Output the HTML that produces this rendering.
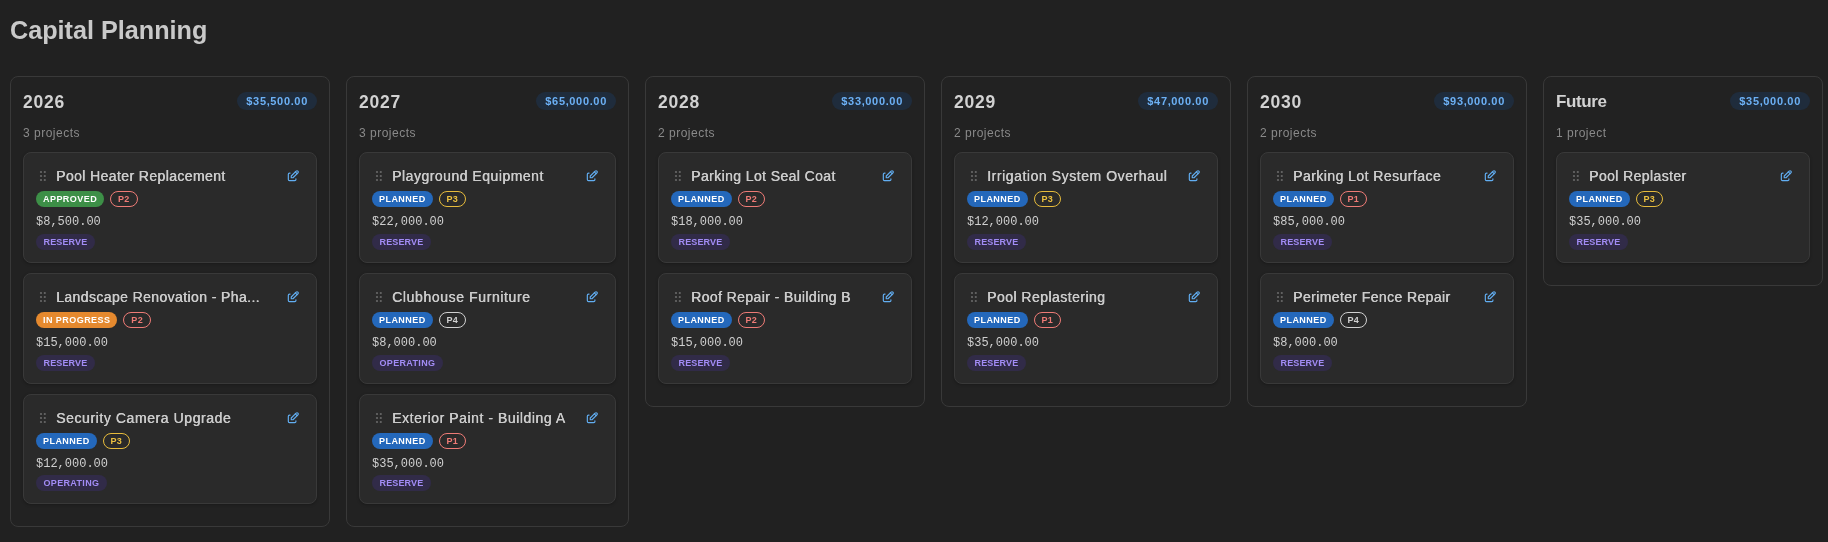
<!DOCTYPE html><html><head><meta charset="utf-8"><title>Capital Planning</title><style>
*{box-sizing:border-box;margin:0;padding:0}
html,body{width:1828px;height:542px;overflow:hidden;background:#212121;font-family:"Liberation Sans",sans-serif;color:#d4d4d4}
h1{will-change:transform;position:absolute;left:10px;top:12.7px;font-size:25.2px;line-height:34px;font-weight:700;color:#c9c9c9;letter-spacing:0}
.board{will-change:transform;position:absolute;left:10px;top:76px;display:flex;gap:16px;align-items:flex-start}
.col{border:1px solid #393939;border-radius:8px;padding:12px 12px 22px 12px;background:#222}
.chead{display:flex;justify-content:space-between;align-items:center;height:18px;margin-top:3px}
.yr{font-size:17.5px;line-height:18px;font-weight:700;color:#d2d2d2;letter-spacing:0.8px;position:relative;top:1px}
.tot{font-size:11px;font-weight:700;color:#6cb0f5;background:#1f2c3c;border-radius:9px;height:18px;line-height:18px;padding:0 9.1px;letter-spacing:0.65px}
.cnt{font-size:12px;color:#8a8a8a;margin-top:16px;height:14px;line-height:14px;letter-spacing:0.5px}
.list{margin-top:12px;display:flex;flex-direction:column;gap:10px}
.card{background:#2a2a2a;border:1px solid #393939;border-radius:8px;box-shadow:0 1px 3px rgba(0,0,0,0.25);height:111px;padding:0 12px;position:relative}
.card:nth-child(3){height:110px}
.r1{display:flex;align-items:center;height:20px;margin-top:13px;position:relative}
.grip{position:absolute;left:3px;top:4px}
.ttl{margin-left:20px;font-size:14px;font-weight:400;color:#cbcbcb;white-space:nowrap;letter-spacing:0.4px;text-shadow:0.4px 0 0 #cbcbcb}
.edit{position:absolute;right:3.8px;top:2.8px}
.r2{display:flex;gap:6px;margin-top:5px;height:16px}
.st,.pr,.fund{display:inline-block;height:16px;line-height:16px;border-radius:8px;font-size:9px;font-weight:700;letter-spacing:0.4px;padding:0 7px}
.st{color:#fff;letter-spacing:0.45px}
.st-ap{background:#3d8f47}
.st-ip{background:#e5892e}
.st-pl{background:#2468bb}
.pr{border:1px solid;line-height:14px;padding:0 6.8px}
.p1,.p2{color:#ee7b76;border-color:#ee7b76}
.p3{color:#ecc03f;border-color:#e6bb3c}
.p4{color:#d0d0d0;border-color:#d0d0d0}
.amt{font-family:"Liberation Mono",monospace;font-size:12px;color:#cfcfcf;margin-top:7px;height:16px;line-height:16px}
.r4{margin-top:4px;height:16px;display:flex}
.fund{background:#312b48;color:#a28cf5}
.yr.fu{font-size:17px;letter-spacing:-0.4px}
.card:nth-child(3) .r4{margin-top:3px}
.fund.res{letter-spacing:0.15px;padding:0 7.5px}
.fund.ope{letter-spacing:0.33px;padding:0 7.5px}

</style></head><body>
<h1>Capital Planning</h1><div class="board">
<div class="col" style="width:320px"><div class="chead"><span class="yr">2026</span><span class="tot">$35,500.00</span></div><div class="cnt">3 projects</div><div class="list">
<div class="card"><div class="r1"><svg class="grip" width="8" height="12" viewBox="0 0 8 12"><g fill="#686868"><circle cx="2" cy="2" r="1.1"/><circle cx="5.8" cy="2" r="1.1"/><circle cx="2" cy="6" r="1.1"/><circle cx="5.8" cy="6" r="1.1"/><circle cx="2" cy="10" r="1.1"/><circle cx="5.8" cy="10" r="1.1"/></g></svg><span class="ttl">Pool Heater Replacement</span><svg class="edit" width="14" height="14" viewBox="0 0 24 24" fill="none" stroke="#62aef2" stroke-width="2" stroke-linecap="round" stroke-linejoin="round"><path d="M7 7h-1a2 2 0 0 0 -2 2v9a2 2 0 0 0 2 2h9a2 2 0 0 0 2 -2v-1"/><path d="M20.385 6.585a2.1 2.1 0 0 0 -2.97 -2.97l-8.415 8.385v3h3l8.415 -8.385z"/><path d="M16 5l3 3"/></svg></div><div class="r2"><span class="st st-ap">APPROVED</span><span class="pr p2">P2</span></div><div class="amt">$8,500.00</div><div class="r4"><span class="fund res">RESERVE</span></div></div>
<div class="card"><div class="r1"><svg class="grip" width="8" height="12" viewBox="0 0 8 12"><g fill="#686868"><circle cx="2" cy="2" r="1.1"/><circle cx="5.8" cy="2" r="1.1"/><circle cx="2" cy="6" r="1.1"/><circle cx="5.8" cy="6" r="1.1"/><circle cx="2" cy="10" r="1.1"/><circle cx="5.8" cy="10" r="1.1"/></g></svg><span class="ttl">Landscape Renovation - Pha...</span><svg class="edit" width="14" height="14" viewBox="0 0 24 24" fill="none" stroke="#62aef2" stroke-width="2" stroke-linecap="round" stroke-linejoin="round"><path d="M7 7h-1a2 2 0 0 0 -2 2v9a2 2 0 0 0 2 2h9a2 2 0 0 0 2 -2v-1"/><path d="M20.385 6.585a2.1 2.1 0 0 0 -2.97 -2.97l-8.415 8.385v3h3l8.415 -8.385z"/><path d="M16 5l3 3"/></svg></div><div class="r2"><span class="st st-ip">IN PROGRESS</span><span class="pr p2">P2</span></div><div class="amt">$15,000.00</div><div class="r4"><span class="fund res">RESERVE</span></div></div>
<div class="card"><div class="r1"><svg class="grip" width="8" height="12" viewBox="0 0 8 12"><g fill="#686868"><circle cx="2" cy="2" r="1.1"/><circle cx="5.8" cy="2" r="1.1"/><circle cx="2" cy="6" r="1.1"/><circle cx="5.8" cy="6" r="1.1"/><circle cx="2" cy="10" r="1.1"/><circle cx="5.8" cy="10" r="1.1"/></g></svg><span class="ttl" style="letter-spacing:0.58px">Security Camera Upgrade</span><svg class="edit" width="14" height="14" viewBox="0 0 24 24" fill="none" stroke="#62aef2" stroke-width="2" stroke-linecap="round" stroke-linejoin="round"><path d="M7 7h-1a2 2 0 0 0 -2 2v9a2 2 0 0 0 2 2h9a2 2 0 0 0 2 -2v-1"/><path d="M20.385 6.585a2.1 2.1 0 0 0 -2.97 -2.97l-8.415 8.385v3h3l8.415 -8.385z"/><path d="M16 5l3 3"/></svg></div><div class="r2"><span class="st st-pl">PLANNED</span><span class="pr p3">P3</span></div><div class="amt">$12,000.00</div><div class="r4"><span class="fund ope">OPERATING</span></div></div>
</div></div>
<div class="col" style="width:283px"><div class="chead"><span class="yr">2027</span><span class="tot">$65,000.00</span></div><div class="cnt">3 projects</div><div class="list">
<div class="card"><div class="r1"><svg class="grip" width="8" height="12" viewBox="0 0 8 12"><g fill="#686868"><circle cx="2" cy="2" r="1.1"/><circle cx="5.8" cy="2" r="1.1"/><circle cx="2" cy="6" r="1.1"/><circle cx="5.8" cy="6" r="1.1"/><circle cx="2" cy="10" r="1.1"/><circle cx="5.8" cy="10" r="1.1"/></g></svg><span class="ttl" style="letter-spacing:0.5px">Playground Equipment</span><svg class="edit" width="14" height="14" viewBox="0 0 24 24" fill="none" stroke="#62aef2" stroke-width="2" stroke-linecap="round" stroke-linejoin="round"><path d="M7 7h-1a2 2 0 0 0 -2 2v9a2 2 0 0 0 2 2h9a2 2 0 0 0 2 -2v-1"/><path d="M20.385 6.585a2.1 2.1 0 0 0 -2.97 -2.97l-8.415 8.385v3h3l8.415 -8.385z"/><path d="M16 5l3 3"/></svg></div><div class="r2"><span class="st st-pl">PLANNED</span><span class="pr p3">P3</span></div><div class="amt">$22,000.00</div><div class="r4"><span class="fund res">RESERVE</span></div></div>
<div class="card"><div class="r1"><svg class="grip" width="8" height="12" viewBox="0 0 8 12"><g fill="#686868"><circle cx="2" cy="2" r="1.1"/><circle cx="5.8" cy="2" r="1.1"/><circle cx="2" cy="6" r="1.1"/><circle cx="5.8" cy="6" r="1.1"/><circle cx="2" cy="10" r="1.1"/><circle cx="5.8" cy="10" r="1.1"/></g></svg><span class="ttl" style="letter-spacing:0.61px">Clubhouse Furniture</span><svg class="edit" width="14" height="14" viewBox="0 0 24 24" fill="none" stroke="#62aef2" stroke-width="2" stroke-linecap="round" stroke-linejoin="round"><path d="M7 7h-1a2 2 0 0 0 -2 2v9a2 2 0 0 0 2 2h9a2 2 0 0 0 2 -2v-1"/><path d="M20.385 6.585a2.1 2.1 0 0 0 -2.97 -2.97l-8.415 8.385v3h3l8.415 -8.385z"/><path d="M16 5l3 3"/></svg></div><div class="r2"><span class="st st-pl">PLANNED</span><span class="pr p4">P4</span></div><div class="amt">$8,000.00</div><div class="r4"><span class="fund ope">OPERATING</span></div></div>
<div class="card"><div class="r1"><svg class="grip" width="8" height="12" viewBox="0 0 8 12"><g fill="#686868"><circle cx="2" cy="2" r="1.1"/><circle cx="5.8" cy="2" r="1.1"/><circle cx="2" cy="6" r="1.1"/><circle cx="5.8" cy="6" r="1.1"/><circle cx="2" cy="10" r="1.1"/><circle cx="5.8" cy="10" r="1.1"/></g></svg><span class="ttl" style="letter-spacing:0.55px">Exterior Paint - Building A</span><svg class="edit" width="14" height="14" viewBox="0 0 24 24" fill="none" stroke="#62aef2" stroke-width="2" stroke-linecap="round" stroke-linejoin="round"><path d="M7 7h-1a2 2 0 0 0 -2 2v9a2 2 0 0 0 2 2h9a2 2 0 0 0 2 -2v-1"/><path d="M20.385 6.585a2.1 2.1 0 0 0 -2.97 -2.97l-8.415 8.385v3h3l8.415 -8.385z"/><path d="M16 5l3 3"/></svg></div><div class="r2"><span class="st st-pl">PLANNED</span><span class="pr p1">P1</span></div><div class="amt">$35,000.00</div><div class="r4"><span class="fund res">RESERVE</span></div></div>
</div></div>
<div class="col" style="width:280px"><div class="chead"><span class="yr">2028</span><span class="tot">$33,000.00</span></div><div class="cnt">2 projects</div><div class="list">
<div class="card"><div class="r1"><svg class="grip" width="8" height="12" viewBox="0 0 8 12"><g fill="#686868"><circle cx="2" cy="2" r="1.1"/><circle cx="5.8" cy="2" r="1.1"/><circle cx="2" cy="6" r="1.1"/><circle cx="5.8" cy="6" r="1.1"/><circle cx="2" cy="10" r="1.1"/><circle cx="5.8" cy="10" r="1.1"/></g></svg><span class="ttl">Parking Lot Seal Coat</span><svg class="edit" width="14" height="14" viewBox="0 0 24 24" fill="none" stroke="#62aef2" stroke-width="2" stroke-linecap="round" stroke-linejoin="round"><path d="M7 7h-1a2 2 0 0 0 -2 2v9a2 2 0 0 0 2 2h9a2 2 0 0 0 2 -2v-1"/><path d="M20.385 6.585a2.1 2.1 0 0 0 -2.97 -2.97l-8.415 8.385v3h3l8.415 -8.385z"/><path d="M16 5l3 3"/></svg></div><div class="r2"><span class="st st-pl">PLANNED</span><span class="pr p2">P2</span></div><div class="amt">$18,000.00</div><div class="r4"><span class="fund res">RESERVE</span></div></div>
<div class="card"><div class="r1"><svg class="grip" width="8" height="12" viewBox="0 0 8 12"><g fill="#686868"><circle cx="2" cy="2" r="1.1"/><circle cx="5.8" cy="2" r="1.1"/><circle cx="2" cy="6" r="1.1"/><circle cx="5.8" cy="6" r="1.1"/><circle cx="2" cy="10" r="1.1"/><circle cx="5.8" cy="10" r="1.1"/></g></svg><span class="ttl">Roof Repair - Building B</span><svg class="edit" width="14" height="14" viewBox="0 0 24 24" fill="none" stroke="#62aef2" stroke-width="2" stroke-linecap="round" stroke-linejoin="round"><path d="M7 7h-1a2 2 0 0 0 -2 2v9a2 2 0 0 0 2 2h9a2 2 0 0 0 2 -2v-1"/><path d="M20.385 6.585a2.1 2.1 0 0 0 -2.97 -2.97l-8.415 8.385v3h3l8.415 -8.385z"/><path d="M16 5l3 3"/></svg></div><div class="r2"><span class="st st-pl">PLANNED</span><span class="pr p2">P2</span></div><div class="amt">$15,000.00</div><div class="r4"><span class="fund res">RESERVE</span></div></div>
</div></div>
<div class="col" style="width:290px"><div class="chead"><span class="yr">2029</span><span class="tot">$47,000.00</span></div><div class="cnt">2 projects</div><div class="list">
<div class="card"><div class="r1"><svg class="grip" width="8" height="12" viewBox="0 0 8 12"><g fill="#686868"><circle cx="2" cy="2" r="1.1"/><circle cx="5.8" cy="2" r="1.1"/><circle cx="2" cy="6" r="1.1"/><circle cx="5.8" cy="6" r="1.1"/><circle cx="2" cy="10" r="1.1"/><circle cx="5.8" cy="10" r="1.1"/></g></svg><span class="ttl" style="letter-spacing:0.56px">Irrigation System Overhaul</span><svg class="edit" width="14" height="14" viewBox="0 0 24 24" fill="none" stroke="#62aef2" stroke-width="2" stroke-linecap="round" stroke-linejoin="round"><path d="M7 7h-1a2 2 0 0 0 -2 2v9a2 2 0 0 0 2 2h9a2 2 0 0 0 2 -2v-1"/><path d="M20.385 6.585a2.1 2.1 0 0 0 -2.97 -2.97l-8.415 8.385v3h3l8.415 -8.385z"/><path d="M16 5l3 3"/></svg></div><div class="r2"><span class="st st-pl">PLANNED</span><span class="pr p3">P3</span></div><div class="amt">$12,000.00</div><div class="r4"><span class="fund res">RESERVE</span></div></div>
<div class="card"><div class="r1"><svg class="grip" width="8" height="12" viewBox="0 0 8 12"><g fill="#686868"><circle cx="2" cy="2" r="1.1"/><circle cx="5.8" cy="2" r="1.1"/><circle cx="2" cy="6" r="1.1"/><circle cx="5.8" cy="6" r="1.1"/><circle cx="2" cy="10" r="1.1"/><circle cx="5.8" cy="10" r="1.1"/></g></svg><span class="ttl" style="letter-spacing:0.46px">Pool Replastering</span><svg class="edit" width="14" height="14" viewBox="0 0 24 24" fill="none" stroke="#62aef2" stroke-width="2" stroke-linecap="round" stroke-linejoin="round"><path d="M7 7h-1a2 2 0 0 0 -2 2v9a2 2 0 0 0 2 2h9a2 2 0 0 0 2 -2v-1"/><path d="M20.385 6.585a2.1 2.1 0 0 0 -2.97 -2.97l-8.415 8.385v3h3l8.415 -8.385z"/><path d="M16 5l3 3"/></svg></div><div class="r2"><span class="st st-pl">PLANNED</span><span class="pr p1">P1</span></div><div class="amt">$35,000.00</div><div class="r4"><span class="fund res">RESERVE</span></div></div>
</div></div>
<div class="col" style="width:280px"><div class="chead"><span class="yr">2030</span><span class="tot">$93,000.00</span></div><div class="cnt">2 projects</div><div class="list">
<div class="card"><div class="r1"><svg class="grip" width="8" height="12" viewBox="0 0 8 12"><g fill="#686868"><circle cx="2" cy="2" r="1.1"/><circle cx="5.8" cy="2" r="1.1"/><circle cx="2" cy="6" r="1.1"/><circle cx="5.8" cy="6" r="1.1"/><circle cx="2" cy="10" r="1.1"/><circle cx="5.8" cy="10" r="1.1"/></g></svg><span class="ttl" style="letter-spacing:0.45px">Parking Lot Resurface</span><svg class="edit" width="14" height="14" viewBox="0 0 24 24" fill="none" stroke="#62aef2" stroke-width="2" stroke-linecap="round" stroke-linejoin="round"><path d="M7 7h-1a2 2 0 0 0 -2 2v9a2 2 0 0 0 2 2h9a2 2 0 0 0 2 -2v-1"/><path d="M20.385 6.585a2.1 2.1 0 0 0 -2.97 -2.97l-8.415 8.385v3h3l8.415 -8.385z"/><path d="M16 5l3 3"/></svg></div><div class="r2"><span class="st st-pl">PLANNED</span><span class="pr p1">P1</span></div><div class="amt">$85,000.00</div><div class="r4"><span class="fund res">RESERVE</span></div></div>
<div class="card"><div class="r1"><svg class="grip" width="8" height="12" viewBox="0 0 8 12"><g fill="#686868"><circle cx="2" cy="2" r="1.1"/><circle cx="5.8" cy="2" r="1.1"/><circle cx="2" cy="6" r="1.1"/><circle cx="5.8" cy="6" r="1.1"/><circle cx="2" cy="10" r="1.1"/><circle cx="5.8" cy="10" r="1.1"/></g></svg><span class="ttl">Perimeter Fence Repair</span><svg class="edit" width="14" height="14" viewBox="0 0 24 24" fill="none" stroke="#62aef2" stroke-width="2" stroke-linecap="round" stroke-linejoin="round"><path d="M7 7h-1a2 2 0 0 0 -2 2v9a2 2 0 0 0 2 2h9a2 2 0 0 0 2 -2v-1"/><path d="M20.385 6.585a2.1 2.1 0 0 0 -2.97 -2.97l-8.415 8.385v3h3l8.415 -8.385z"/><path d="M16 5l3 3"/></svg></div><div class="r2"><span class="st st-pl">PLANNED</span><span class="pr p4">P4</span></div><div class="amt">$8,000.00</div><div class="r4"><span class="fund res">RESERVE</span></div></div>
</div></div>
<div class="col" style="width:280px"><div class="chead"><span class="yr fu">Future</span><span class="tot">$35,000.00</span></div><div class="cnt">1 project</div><div class="list">
<div class="card"><div class="r1"><svg class="grip" width="8" height="12" viewBox="0 0 8 12"><g fill="#686868"><circle cx="2" cy="2" r="1.1"/><circle cx="5.8" cy="2" r="1.1"/><circle cx="2" cy="6" r="1.1"/><circle cx="5.8" cy="6" r="1.1"/><circle cx="2" cy="10" r="1.1"/><circle cx="5.8" cy="10" r="1.1"/></g></svg><span class="ttl">Pool Replaster</span><svg class="edit" width="14" height="14" viewBox="0 0 24 24" fill="none" stroke="#62aef2" stroke-width="2" stroke-linecap="round" stroke-linejoin="round"><path d="M7 7h-1a2 2 0 0 0 -2 2v9a2 2 0 0 0 2 2h9a2 2 0 0 0 2 -2v-1"/><path d="M20.385 6.585a2.1 2.1 0 0 0 -2.97 -2.97l-8.415 8.385v3h3l8.415 -8.385z"/><path d="M16 5l3 3"/></svg></div><div class="r2"><span class="st st-pl">PLANNED</span><span class="pr p3">P3</span></div><div class="amt">$35,000.00</div><div class="r4"><span class="fund res">RESERVE</span></div></div>
</div></div>
</div></body></html>
